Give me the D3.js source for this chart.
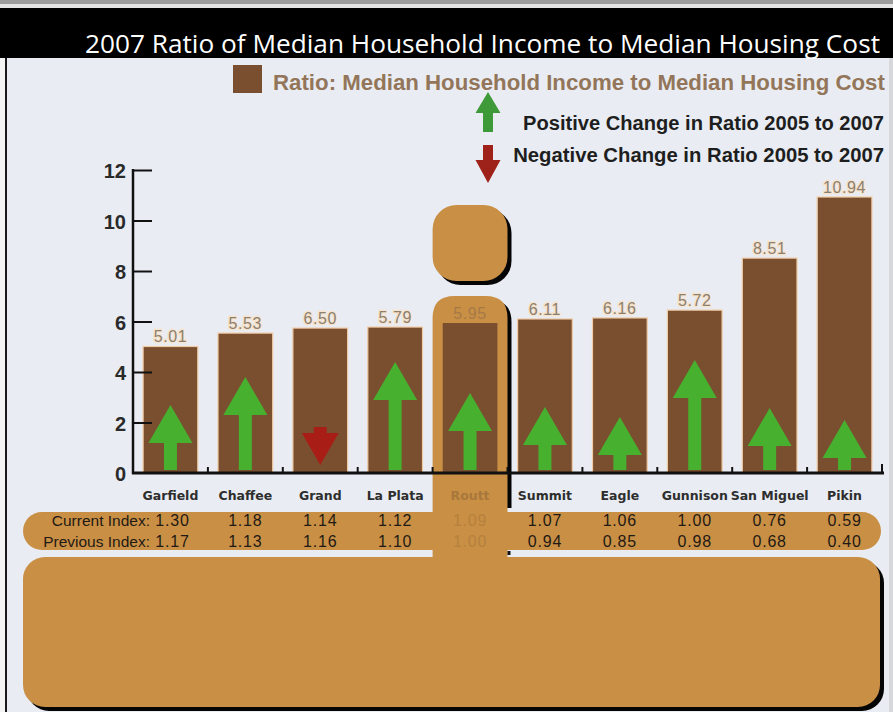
<!DOCTYPE html>
<html><head><meta charset="utf-8">
<script src="https://cdn.jsdelivr.net/npm/d3@7"></script>
<style>body{margin:0;background:#fff}svg{display:block}</style>
</head><body><svg id="c" width="893" height="712"></svg>
<script>
// ---- data ----
const counties = ["Garfield","Chaffee","Grand","La Plata","Routt","Summit","Eagle","Gunnison","San Miguel","Pikin"];
const ratio = [5.01,5.54,5.74,5.78,5.94,6.10,6.14,6.45,8.51,10.93];
const ratioLabels = ["5.01","5.53","6.50","5.79","5.95","6.11","6.16","5.72","8.51","10.94"];
const arrowFrom = [0,0,1.82,0,0,0,0,0,0,0];
const arrowTo = [2.69,3.80,0.32,4.40,3.17,2.61,2.22,4.48,2.57,2.10];
const currentIndex = ["1.30","1.18","1.14","1.12","1.09","1.07","1.06","1.00","0.76","0.59"];
const previousIndex = ["1.17","1.13","1.16","1.10","1.00","0.94","0.85","0.98","0.68","0.40"];
const yTicks = [0,2,4,6,8,10,12];
const highlight = "Routt";
const titleText = "2007 Ratio of Median Household Income to Median Housing Cost";
const legendRatio = "Ratio: Median Household Income to Median Housing Cost";
const legendPos = "Positive Change in Ratio 2005 to 2007";
const legendNeg = "Negative Change in Ratio 2005 to 2007";

// ---- styles ----
const C = {bg:"#e9edf3", bar:"#7a4f2f", barEdge:"#f0caa4", green:"#47b02f", red:"#a81e16",
  tan:"#c98f44", tanText:"#a8773c", lblText:"#8a8072"};

const svg = d3.select("#c");
const W = 893, H = 712;

function fit(sel, target){
  const n = sel.node(); const fs = parseFloat(sel.attr("font-size"));
  const w = n.getComputedTextLength();
  sel.attr("font-size", (fs*target/w).toFixed(2));
}

// background & frame
svg.append("rect").attr("width",W).attr("height",H).attr("fill",C.bg);
svg.append("rect").attr("width",W).attr("height",4).attr("fill","#9c9c9c");
svg.append("rect").attr("y",4).attr("width",W).attr("height",4).attr("fill","#e4e4e4");
svg.append("rect").attr("y",8).attr("width",W).attr("height",50).attr("fill","#000");
svg.append("rect").attr("x",0).attr("y",58).attr("width",5).attr("height",H-58).attr("fill","#f4f4f4");
svg.append("rect").attr("x",5).attr("y",58).attr("width",2).attr("height",H-58).attr("fill","#1a1a1a");
svg.append("rect").attr("x",889).attr("y",58).attr("width",4).attr("height",H-58).attr("fill","#d6d8dc");

// title
const t = svg.append("text").attr("x",880).attr("y",53).attr("text-anchor","end")
  .attr("font-family","'Open Sans', sans-serif").attr("font-size",24).attr("fill","#fff").text(titleText);
fit(t, 795);

// scales
const x = d3.scaleBand().domain(counties).range([133,882]).paddingInner(0.27).paddingOuter(0.135);
const y = d3.scaleLinear().domain([0,12]).range([473,170]);
const step = x.step(), bw = x.bandwidth(), pad = step*x.paddingInner();
const hx0 = x(highlight) - pad/2, hx1 = hx0 + step;

// table band and bottom panel
svg.append("rect").attr("x",23).attr("y",512).attr("width",858).attr("height",38).attr("rx",19).attr("fill",C.tan);
svg.append("rect").attr("x",27).attr("y",561).attr("width",857).attr("height",150).attr("rx",22).attr("fill","#050505");
svg.append("rect").attr("x",23).attr("y",557).attr("width",857).attr("height",150).attr("rx",22).attr("fill",C.tan);

// highlighted column (info "i")
function topRounded(x0,x1,yt,yb,r){
  return `M${x0},${yb}V${yt+r}Q${x0},${yt} ${x0+r},${yt}H${x1-r}Q${x1},${yt} ${x1},${yt+r}V${yb}Z`;
}
svg.append("path").attr("d", topRounded(hx0+4,hx1+4,300,508,22)).attr("fill","#050505");
svg.append("path").attr("d", topRounded(hx0,hx1,296,560,22)).attr("fill",C.tan);
svg.append("rect").attr("x",hx1).attr("y",551).attr("width",3).attr("height",4).attr("fill","#111");
svg.append("rect").attr("x",hx0+4).attr("y",209).attr("width",step).attr("height",76).attr("rx",24).attr("fill","#050505");
svg.append("rect").attr("x",hx0).attr("y",205).attr("width",step).attr("height",76).attr("rx",24).attr("fill",C.tan);

// bars
svg.append("g").selectAll("rect").data(counties).join("rect")
  .attr("x",d=>x(d)).attr("width",bw)
  .attr("y",(d,i)=>y(ratio[i])).attr("height",(d,i)=>y(0)-y(ratio[i]))
  .attr("fill",C.bar).attr("stroke",(d)=>d===highlight?"none":C.barEdge).attr("stroke-width",1.2);

// bar value labels
svg.append("g").selectAll("text").data(counties).join("text")
  .attr("x",d=>x(d)+bw/2).attr("y",(d,i)=>y(ratio[i])-4).attr("text-anchor","middle")
  .attr("font-family","'Liberation Sans', Arial, sans-serif").attr("font-size",16).attr("letter-spacing",0.6)
  .attr("fill",d=>d===highlight?"#a67a48":C.lblText)
  .attr("stroke",d=>d===highlight?"none":"#f8e3cb").attr("stroke-width",2.5).attr("paint-order","stroke")
  .text((d,i)=>ratioLabels[i]);

// change arrows
function arrowPath(cx, yFrom, yTo, headW, headH, sw){
  const dir = yTo < yFrom ? 1 : -1; // 1 = up
  const hb = yTo + dir*headH;
  return `M${cx-sw/2},${yFrom}V${hb}H${cx-headW/2}L${cx},${yTo}L${cx+headW/2},${hb}H${cx+sw/2}V${yFrom}Z`;
}
svg.append("g").selectAll("path").data(counties).join("path")
  .attr("d",(d,i)=>{
    const y0 = y(arrowFrom[i]) - (arrowFrom[i]===0?3:0), y1 = y(arrowTo[i]);
    const len = Math.abs(y1-y0), hh = Math.min(38, len*0.84), hw = Math.min(44, hh*1.16);
    return arrowPath(x(d)+bw/2, y0, y1, hw, hh, 13);
  })
  .attr("fill",(d,i)=>arrowTo[i]>arrowFrom[i]?C.green:C.red);

// axes
const yAxis = d3.axisRight(y).tickValues(yTicks.slice(1)).tickSize(19).tickFormat("");
const gy = svg.append("g").attr("transform","translate(133,0)").call(yAxis);
gy.select(".domain").remove();
gy.selectAll(".tick line").attr("stroke","#111").attr("stroke-width",2);
svg.append("line").attr("x1",133).attr("x2",133).attr("y1",y(12)-1).attr("y2",y(0)+1).attr("stroke","#111").attr("stroke-width",2.5);
svg.append("g").selectAll("text").data(yTicks).join("text")
  .attr("x",126).attr("y",d=>y(d)).attr("dy","0.4em").attr("text-anchor","end")
  .attr("font-family","'Liberation Sans', Arial, sans-serif").attr("font-weight","bold").attr("font-size",20)
  .attr("fill","#2a2a2a").text(d=>d);

svg.append("line").attr("x1",132).attr("x2",884).attr("y1",y(0)).attr("y2",y(0)).attr("stroke","#111").attr("stroke-width",3);
const bounds = counties.map(d=>x(d)-pad/2).slice(1).concat([x(counties[counties.length-1])+bw+pad/2]);
svg.append("g").selectAll("line").data(bounds).join("line")
  .attr("x1",d=>d).attr("x2",d=>d).attr("y1",y(0)).attr("y2",(d,i)=>y(0)-(i===bounds.length-1?9:6))
  .attr("stroke","#111").attr("stroke-width",2);

// category labels
svg.append("g").selectAll("text").data(counties).join("text")
  .attr("x",d=>x(d)+bw/2).attr("y",500).attr("text-anchor","middle")
  .attr("font-family","'DejaVu Sans', sans-serif").attr("font-weight","bold").attr("font-size",12.5)
  .attr("fill",d=>d===highlight?C.tanText:"#2e2e2e").text(d=>d);

// index table
const tf = "'Liberation Sans', Arial, sans-serif";
svg.append("text").attr("x",150).attr("y",526).attr("text-anchor","end").attr("font-family",tf)
  .attr("font-size",15.5).attr("fill","#1f1a15").text("Current Index:");
svg.append("text").attr("x",150).attr("y",547).attr("text-anchor","end").attr("font-family",tf)
  .attr("font-size",15.5).attr("fill","#1f1a15").text("Previous Index:");
[[currentIndex,526],[previousIndex,547]].forEach(([arr,yy])=>{
  svg.append("g").selectAll("text").data(counties).join("text")
    .attr("x",(d,i)=>x(d)+bw/2 + (i===0?2:0)).attr("y",yy).attr("text-anchor","middle").attr("font-family",tf)
    .attr("font-size",16).attr("letter-spacing",0.8).attr("fill",d=>d===highlight?"#b5813f":"#1f1a15")
    .text((d,i)=>arr[i]);
});

// legend
svg.append("rect").attr("x",233).attr("y",65).attr("width",29).attr("height",28).attr("fill",C.bar);
const l1 = svg.append("text").attr("x",273).attr("y",90).attr("font-family",tf).attr("font-weight","bold")
  .attr("font-size",20).attr("fill","#93765a").text(legendRatio);
fit(l1, 612);
svg.append("path").attr("d",arrowPath(488,132,92,25,21,10)).attr("fill","#3e9a38");
svg.append("path").attr("d",arrowPath(488,145,183,25,23,10)).attr("fill","#9e2219");
const l2 = svg.append("text").attr("x",884).attr("y",130).attr("text-anchor","end").attr("font-family",tf)
  .attr("font-weight","bold").attr("font-size",17).attr("fill","#1e1e1e").text(legendPos);
fit(l2, 361);
const l3 = svg.append("text").attr("x",884).attr("y",162).attr("text-anchor","end").attr("font-family",tf)
  .attr("font-weight","bold").attr("font-size",17).attr("fill","#1e1e1e").text(legendNeg);
fit(l3, 371);
</script></body></html>
